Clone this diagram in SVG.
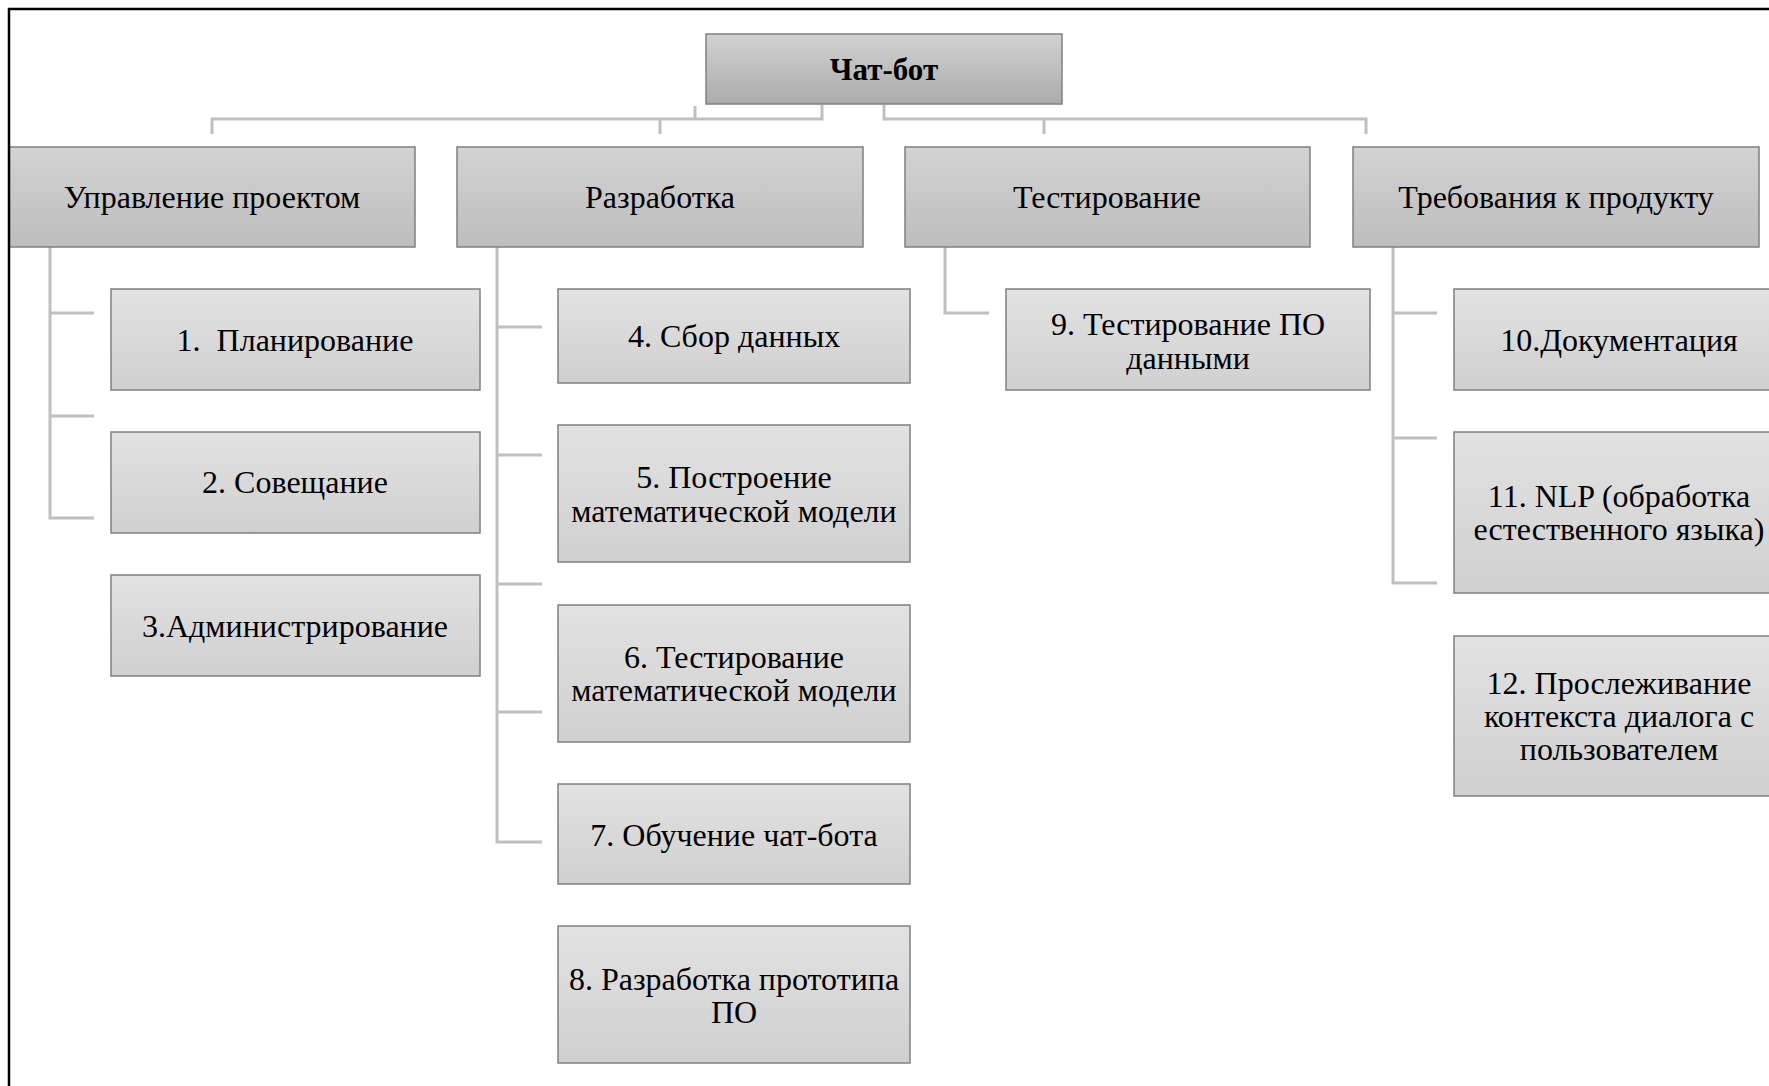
<svg xmlns="http://www.w3.org/2000/svg" width="1769" height="1086" viewBox="0 0 1769 1086">
<defs>
<linearGradient id="gRoot" x1="0" y1="0" x2="0" y2="1"><stop offset="0" stop-color="#d2d2d2"/><stop offset="1" stop-color="#ababab"/></linearGradient>
<linearGradient id="gL2" x1="0" y1="0" x2="0" y2="1"><stop offset="0" stop-color="#d3d3d3"/><stop offset="1" stop-color="#bdbdbd"/></linearGradient>
<linearGradient id="gL3" x1="0" y1="0" x2="0" y2="1"><stop offset="0" stop-color="#e2e2e2"/><stop offset="1" stop-color="#d0d0d0"/></linearGradient>
</defs>
<style>
.root{fill:url(#gRoot);stroke:#808080;stroke-width:1.5}
.l2{fill:url(#gL2);stroke:#808080;stroke-width:1.5}
.l3{fill:url(#gL3);stroke:#808080;stroke-width:1.5}
text{font-family:"Liberation Serif","Times New Roman",serif;font-size:32px;fill:#000;text-anchor:middle}
.b{font-weight:bold;font-size:31px}
.conn path{fill:none;stroke:#bfbfbf;stroke-width:3}
</style>
<rect x="0" y="0" width="1769" height="1086" fill="#fff"/>
<g id="connectors" class="conn">
<path d="M212,134 V119 H822 V105"/>
<path d="M695,106 V119"/>
<path d="M660,119 V134"/>
<path d="M884,105 V119 H1366 V134"/>
<path d="M1044,119 V134"/>
<path d="M50,247 V518 H94 M50,313 H94 M50,416 H94"/>
<path d="M497,247 V842 H542 M497,327 H542 M497,455 H542 M497,584 H542 M497,712 H542"/>
<path d="M945,247 V313 H989"/>
<path d="M1393,247 V583 H1437 M1393,313 H1437 M1393,438 H1437"/>
</g>
<g id="n0"><rect class="root" x="706" y="34" width="356" height="70"/><text class="b" x="884" y="80">Чат-бот</text></g>
<g id="n-upr"><rect class="l2" x="9" y="147" width="406" height="100"/><text x="212" y="208">Управление проектом</text></g>
<g id="n-razr"><rect class="l2" x="457" y="147" width="406" height="100"/><text x="660" y="208">Разработка</text></g>
<g id="n-test"><rect class="l2" x="905" y="147" width="405" height="100"/><text x="1107" y="208">Тестирование</text></g>
<g id="n-treb"><rect class="l2" x="1353" y="147" width="406" height="100"/><text x="1556" y="208">Требования к продукту</text></g>
<g id="n1"><rect class="l3" x="111" y="289" width="369" height="101"/><text x="295" y="351" xml:space="preserve">1.  Планирование</text></g>
<g id="n2"><rect class="l3" x="111" y="432" width="369" height="101"/><text x="295" y="493">2. Совещание</text></g>
<g id="n3"><rect class="l3" x="111" y="575" width="369" height="101"/><text x="295" y="637">3.Администрирование</text></g>
<g id="n4"><rect class="l3" x="558" y="289" width="352" height="94"/><text x="734" y="347">4. Сбор данных</text></g>
<g id="n5"><rect class="l3" x="558" y="425" width="352" height="137"/><text x="734" y="488">5. Построение</text><text x="734" y="522">математической модели</text></g>
<g id="n6"><rect class="l3" x="558" y="605" width="352" height="137"/><text x="734" y="668">6. Тестирование</text><text x="734" y="701">математической модели</text></g>
<g id="n7"><rect class="l3" x="558" y="784" width="352" height="100"/><text x="734" y="846">7. Обучение чат-бота</text></g>
<g id="n8"><rect class="l3" x="558" y="926" width="352" height="137"/><text x="734" y="990">8. Разработка прототипа</text><text x="734" y="1023">ПО</text></g>
<g id="n9"><rect class="l3" x="1006" y="289" width="364" height="101"/><text x="1188" y="335">9. Тестирование ПО</text><text x="1188" y="369">данными</text></g>
<g id="n10"><rect class="l3" x="1454" y="289" width="330" height="101"/><text x="1619" y="351">10.Документация</text></g>
<g id="n11"><rect class="l3" x="1454" y="432" width="330" height="161"/><text x="1619" y="507">11. NLP (обработка</text><text x="1619" y="540">естественного языка)</text></g>
<g id="n12"><rect class="l3" x="1454" y="636" width="330" height="160"/><text x="1619" y="694">12. Прослеживание</text><text x="1619" y="727">контекста диалога с</text><text x="1619" y="760">пользователем</text></g>
<path d="M9,1090 V9 H1775" fill="none" stroke="#000" stroke-width="2.5"/>
</svg>
